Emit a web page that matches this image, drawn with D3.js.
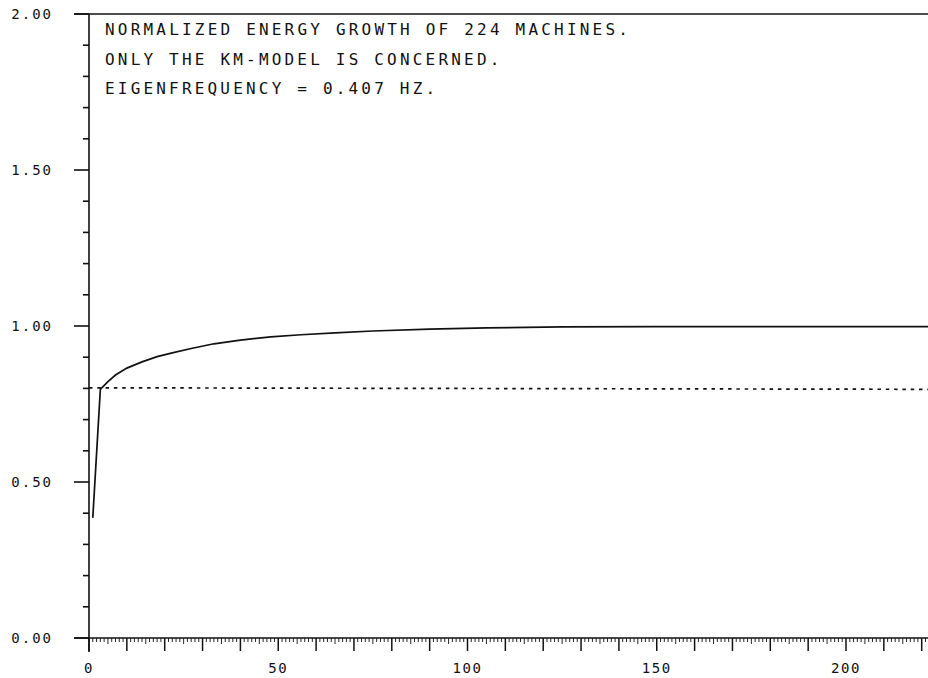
<!DOCTYPE html>
<html>
<head>
<meta charset="utf-8">
<script src="https://cdn.jsdelivr.net/npm/d3@7"></script>
<style>
	body { margin: 0; background: #fff; }
	svg { display: block; }
	text { font-family: 'DejaVu Sans Mono', monospace; fill: #111; }
</style>
</head>
<body>
<div id="chart"></div>
<script>
// Energy growth data

const machines = [1, 3, 5, 7, 10, 14, 18, 22, 27, 33, 40, 48, 56, 65, 75, 90, 105, 125, 150, 175, 200, 222]
const energy = [0.385, 0.797, 0.822, 0.843, 0.865, 0.885, 0.902, 0.914, 0.928, 0.943, 0.955, 0.965, 0.972, 0.978, 0.984, 0.99, 0.994, 0.997, 0.998, 0.998, 0.998, 0.998]

const refMachines = [0, 222]
const refEnergy = [0.802, 0.797]

const xTickLabels = [0, 50, 100, 150, 200]
const yTickLabels = [0, 0.5, 1, 1.5, 2]

const titleLines = [
	'NORMALIZED ENERGY GROWTH OF 224 MACHINES.',
	'ONLY THE KM-MODEL IS CONCERNED.',
	'EIGENFREQUENCY = 0.407 HZ.',
]

function createChart() {
	const svgWidth = 928
	const svgHeight = 678

	const svg = d3
		.select('#chart')
		.append('svg')
		.attr('width', svgWidth)
		.attr('height', svgHeight)

	const x = d3.scaleLinear().domain([0, 200]).range([89, 846])
	const y = d3.scaleLinear().domain([0, 2]).range([638, 14])

	// frame lines
	svg
		.append('line')
		.attr('x1', 74)
		.attr('x2', svgWidth)
		.attr('y1', y(2))
		.attr('y2', y(2))
		.attr('stroke', '#111')
		.attr('stroke-width', 1.5)

	svg
		.append('line')
		.attr('x1', 74)
		.attr('x2', svgWidth)
		.attr('y1', y(0))
		.attr('y2', y(0))
		.attr('stroke', '#111')
		.attr('stroke-width', 1.6)

	svg
		.append('line')
		.attr('x1', x(0))
		.attr('x2', x(0))
		.attr('y1', y(2))
		.attr('y2', y(0) + 14)
		.attr('stroke', '#111')
		.attr('stroke-width', 1.6)

	// x ticks: every unit, longer every 5 and 10
	const xMax = x.invert(svgWidth)
	const xTicks = d3.range(0, Math.floor(xMax) + 1)
	svg
		.append('g')
		.selectAll('line')
		.data(xTicks)
		.enter()
		.append('line')
		.attr('x1', (d) => x(d))
		.attr('x2', (d) => x(d))
		.attr('y1', y(0))
		.attr('y2', (d) => y(0) + (d % 10 === 0 ? 13 : d % 5 === 0 ? 6 : 4))
		.attr('stroke', '#111')
		.attr('stroke-width', (d) => (d % 10 === 0 ? 1.5 : 0.9))

	svg
		.append('g')
		.selectAll('text')
		.data(xTickLabels)
		.enter()
		.append('text')
		.attr('x', (d) => x(d))
		.attr('y', 673)
		.attr('text-anchor', 'middle')
		.attr('font-size', 14)
		.attr('letter-spacing', 1.5)
		.text((d) => d)

	// y ticks: minor every 0.1, major every 0.5
	const yTicks = d3.range(0, 21).map((i) => i / 10)
	svg
		.append('g')
		.selectAll('line')
		.data(yTicks)
		.enter()
		.append('line')
		.attr('x1', (d, i) => x(0) - (i % 5 === 0 ? 15 : 6))
		.attr('x2', x(0))
		.attr('y1', (d) => y(d))
		.attr('y2', (d) => y(d))
		.attr('stroke', '#111')
		.attr('stroke-width', 1.6)

	svg
		.append('g')
		.selectAll('text')
		.data(yTickLabels)
		.enter()
		.append('text')
		.attr('x', 53)
		.attr('y', (d) => y(d) + 5)
		.attr('text-anchor', 'end')
		.attr('font-size', 14)
		.attr('letter-spacing', 2)
		.text((d) => d3.format('.2f')(d))

	// title block
	svg
		.append('g')
		.selectAll('text')
		.data(titleLines)
		.enter()
		.append('text')
		.attr('x', 105)
		.attr('y', (d, i) => 35 + i * 29.5)
		.attr('font-size', 16)
		.attr('textLength', (d) => d.length * 12.85 - 4)
		.attr('lengthAdjust', 'spacing')
		.text((d) => d)

	// dotted reference line
	const refLine = d3
		.line()
		.x((d, i) => x(refMachines[i]))
		.y((d) => y(d))

	svg
		.append('path')
		.datum(refEnergy)
		.attr('fill', 'none')
		.attr('stroke', '#111')
		.attr('stroke-width', 1.7)
		.attr('stroke-dasharray', '3.5,4.8')
		.attr('d', refLine)

	// energy curve
	const line = d3
		.line()
		.x((d, i) => x(machines[i]))
		.y((d) => y(d))

	svg
		.append('path')
		.datum(energy)
		.attr('fill', 'none')
		.attr('stroke', '#111')
		.attr('stroke-width', 1.7)
		.attr('d', line)
}

createChart()
</script>
</body>
</html>
